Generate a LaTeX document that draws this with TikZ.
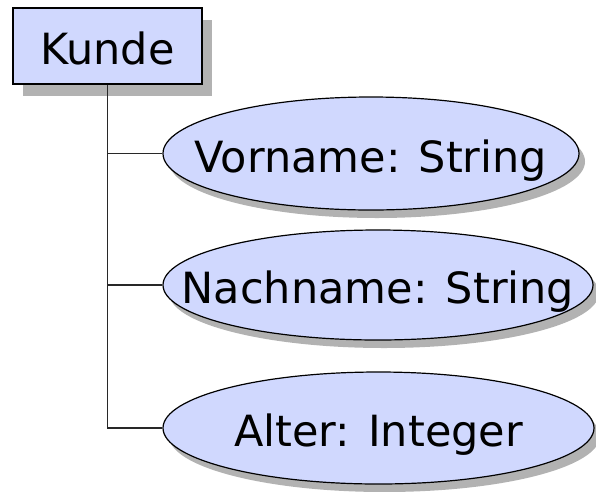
\documentclass[tikz,border=0pt]{standalone}
\usepackage{fontspec}
\setmainfont{DejaVu Sans}
\usetikzlibrary{shapes.geometric,shadows}

\definecolor{entityfill}{RGB}{208,216,254}
\definecolor{shadowgray}{RGB}{178,178,178}
\definecolor{linkgray}{RGB}{40,40,40}

% zero-width label, so the shape size comes from minimum width/height only
\newcommand{\fixedlabel}[1]{\makebox[0pt][c]{#1}}

\tikzset{
  label text/.style={font=\fontsize{43}{50}\selectfont, text height=37pt, text depth=0pt, inner sep=0pt},
  classbox/.style={label text, rectangle, draw=black, line width=1.5pt, fill=entityfill,
    minimum width=189pt, minimum height=76pt,
    drop shadow={shadow xshift=10pt, shadow yshift=-12pt, fill=shadowgray, opacity=1}},
  attrbox/.style={label text, ellipse, draw=black, line width=1.2pt, fill=entityfill,
    drop shadow={shadow xshift=6pt, shadow yshift=-8pt, fill=shadowgray, opacity=1}},
  link/.style={draw=linkgray, line width=1.5pt},
}

\begin{document}
\begin{tikzpicture}[x=1pt, y=1pt]
  \useasboundingbox (0,0) rectangle (596,-491);

  % class and its attributes
  \node[classbox] (kunde) at (107.5,-46) {\fixedlabel{Kunde}};
  \node[attrbox, minimum width=416pt, minimum height=113pt] (vorname) at (371,-153.5) {\fixedlabel{Vorname: String}};
  \node[attrbox, minimum width=430pt, minimum height=110pt] (nachname) at (378,-285) {\fixedlabel{Nachname: String}};
  \node[attrbox, minimum width=431pt, minimum height=112pt] (alter) at (378.5,-428) {\fixedlabel{Alter: Integer}};

  % tree connectors
  \draw[link] (kunde.south) -- (kunde.south |- alter.west) -- (alter.west);
  \draw[link] (kunde.south |- vorname.west) -- (vorname.west);
  \draw[link] (kunde.south |- nachname.west) -- (nachname.west);
\end{tikzpicture}
\end{document}
